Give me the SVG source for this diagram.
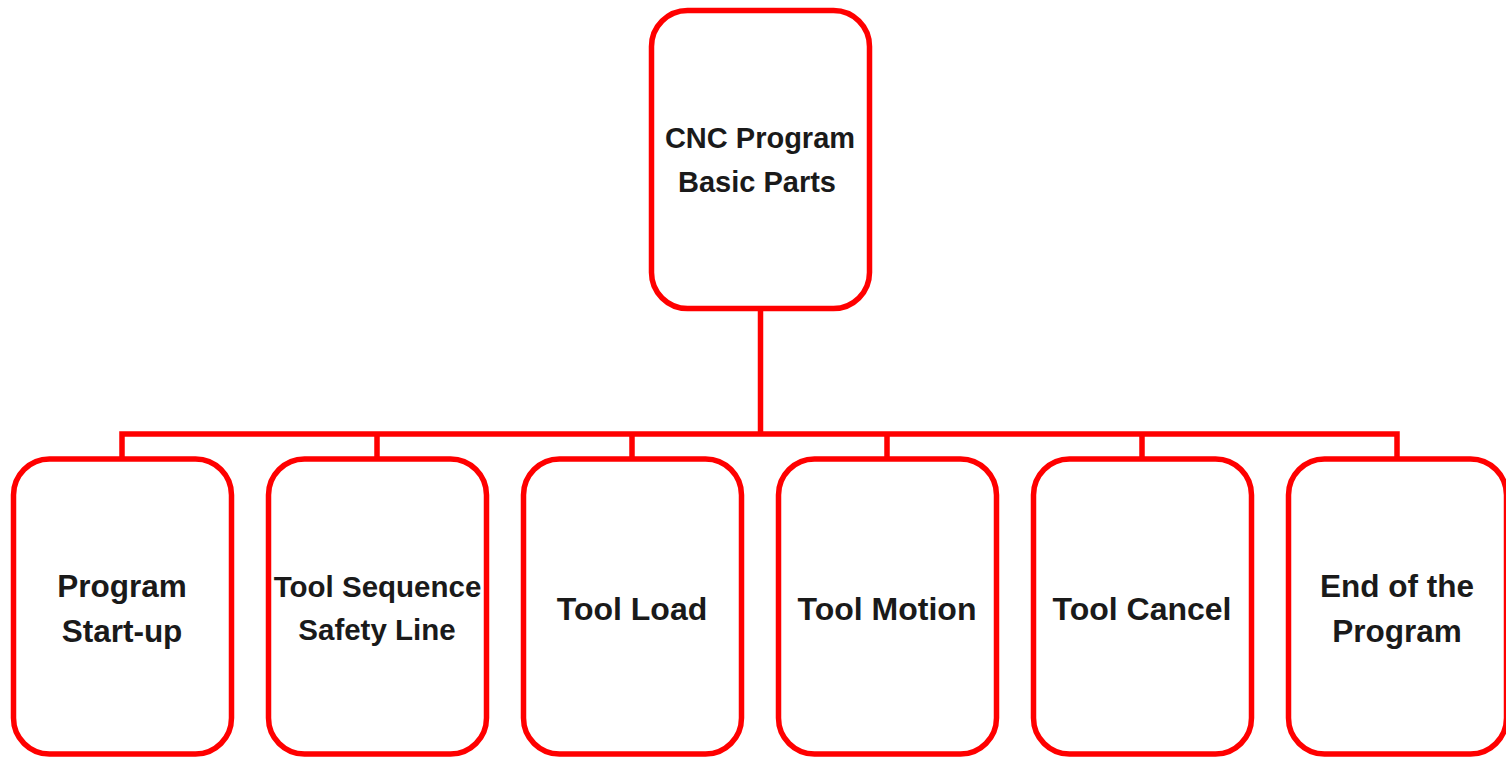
<svg xmlns="http://www.w3.org/2000/svg" width="1506" height="757" viewBox="0 0 1506 757">
<style>
.box{fill:#fff;stroke:#ff0000;stroke-width:5.5}
.lbl{font-family:"Liberation Sans",Arial,sans-serif;font-weight:bold;fill:#1a1a1a;text-anchor:middle}
.con{fill:none;stroke:#ff0000;stroke-width:5.5;stroke-linejoin:miter}
</style>
<rect width="1506" height="757" fill="#fff"/>
<g id="connectors">
<path class="con" d="M760.5 310 V434"/>
<path class="con" d="M122 459 V434 H1397 V459"/>
<path class="con" d="M377 434 V459 M632 434 V459 M887 434 V459 M1142 434 V459"/>
</g>
<g id="root">
<rect class="box" x="651.5" y="10.5" width="218" height="298" rx="36"/>
<text class="lbl" x="760" y="148" font-size="29">CNC Program</text>
<text class="lbl" x="757" y="192" font-size="29">Basic Parts</text>
</g>
<g id="n1">
<rect class="box" x="13.5" y="459" width="218" height="295" rx="36"/>
<text class="lbl" x="122" y="597" font-size="31.5">Program</text>
<text class="lbl" x="122" y="642" font-size="31.5">Start-up</text>
</g>
<g id="n2">
<rect class="box" x="268.5" y="459" width="218" height="295" rx="36"/>
<text class="lbl" x="377.5" y="597" font-size="29.5">Tool Sequence</text>
<text class="lbl" x="377" y="640" font-size="29.5">Safety Line</text>
</g>
<g id="n3">
<rect class="box" x="523.5" y="459" width="218" height="295" rx="36"/>
<text class="lbl" x="632" y="620" font-size="32">Tool Load</text>
</g>
<g id="n4">
<rect class="box" x="778.5" y="459" width="218" height="295" rx="36"/>
<text class="lbl" x="887" y="620" font-size="32">Tool Motion</text>
</g>
<g id="n5">
<rect class="box" x="1033.5" y="459" width="218" height="295" rx="36"/>
<text class="lbl" x="1142" y="620" font-size="32">Tool Cancel</text>
</g>
<g id="n6">
<rect class="box" x="1288.5" y="459" width="218" height="295" rx="36"/>
<text class="lbl" x="1397" y="597" font-size="31.5">End of the</text>
<text class="lbl" x="1397" y="642" font-size="31.5">Program</text>
</g>
</svg>
